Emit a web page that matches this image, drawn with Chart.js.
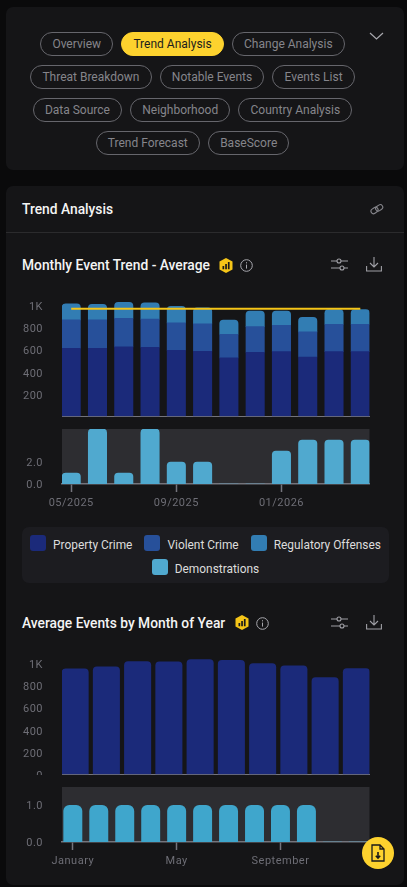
<!DOCTYPE html>
<html>
<head>
<meta charset="utf-8">
<script src="https://cdn.jsdelivr.net/npm/chart.js@4/dist/chart.umd.min.js"></script>
<style>
  * { box-sizing: border-box; }
  html, body { margin: 0; width: 407px; height: 887px; overflow: hidden; background: #0a0a0b; font-family: Roboto, sans-serif; }
  .card { position: absolute; left: 6px; width: 398px; background: #151517; border-radius: 7px; }
  .pills { position: absolute; left: 22px; top: 32px; width: 341px; display: flex; flex-wrap: wrap; justify-content: center; gap: 9px 8px; }
  .pill { height: 24px; line-height: 22px; padding: 0 11.2px; border: 1px solid #66666c; border-radius: 12px; color: #85858b; font-size: 12px; white-space: nowrap; }
  .pill.on { background: #fdd22e; border-color: #fdd22e; color: #1c1c1c; }
  .abs { position: absolute; }
  .title { position: absolute; left: 22px; color: #f4f4f4; font-size: 13.8px; font-weight: 500; white-space: nowrap; }
  .divider { position: absolute; left: 6px; width: 398px; top: 232px; height: 1px; background: #2b2b2d; }
  canvas { position: absolute; left: 0; }
  .legend { position: absolute; left: 22px; top: 527px; width: 367px; height: 56px; background: #1c1c20; border-radius: 7px; display: flex; flex-wrap: wrap; justify-content: center; align-content: flex-start; padding-top: 8px; gap: 8px 12px; }
  .legend div { display: flex; align-items: center; gap: 7px; color: #dcdcdc; font-size: 11.9px; height: 16px; white-space: nowrap; }
  .legend span { position: relative; top: 1.5px; }
  .legend i { width: 16px; height: 16px; border-radius: 3px; display: block; }
  .fab { position: absolute; left: 362px; top: 837px; width: 32px; height: 32px; border-radius: 50%; background: #fdd22e; }
</style>
</head>
<body>
<div class="card" style="top:7px;height:163px"></div>
<div class="card" style="top:186px;height:699px"></div>
<div class="divider"></div>

<div class="pills" id="pills"></div>
<svg class="abs" style="left:369px;top:31px" width="15" height="10" fill="none" stroke="#a8a8ae" stroke-width="1.2"><path d="M1 2l6.5 6L14 2"/></svg>

<div class="title" style="top:201px;left:22px">Trend Analysis</div>
<svg class="abs" style="left:370px;top:203px" width="14" height="13" fill="none" stroke="#85858b" stroke-width="1.1"><rect x="0.8" y="5" width="7.5" height="5" rx="2.5" transform="rotate(-35 4.5 7.5)"/><rect x="5.5" y="2.5" width="7.5" height="5" rx="2.5" transform="rotate(-35 9 5)"/></svg>

<div class="title" style="top:257px">Monthly Event Trend - Average</div>
<svg class="abs hex" style="left:219px;top:258px" width="14" height="15" viewBox="0 0 14 15"><path fill="#f5c518" d="M7 0l6.5 3.5v8L7 15 .5 11.5v-8z"/><path fill="#1a1a1a" d="M3.5 8h1.7v3.2H3.5zM6.2 6h1.7v5.2H6.2zM8.9 4h1.7v7.2H8.9z"/></svg>
<svg class="abs info" style="left:240px;top:259px" width="13" height="13" fill="none" stroke="#a8a8ae" stroke-width="1"><circle cx="6.5" cy="6.5" r="5.8"/><path d="M6.5 5.6v4M6.5 3.2v1.2"/></svg>
<svg class="abs" style="left:331px;top:257px" width="17" height="15" fill="none" stroke="#a0a0a6" stroke-width="1.1"><path d="M0 4h6M10 4h7M0 11h9M13 11h4"/><circle cx="8" cy="4" r="2"/><circle cx="11" cy="11" r="2"/></svg>
<svg class="abs" style="left:366px;top:256px" width="16" height="16" fill="none" stroke="#a0a0a6" stroke-width="1.1"><path d="M8 1v10M4 7l4 4 4-4M.6 10v5h14.8v-5"/></svg>

<canvas id="c1"></canvas>
<canvas id="c2"></canvas>
<div class="legend" id="legend"></div>

<div class="title" style="top:615px">Average Events by Month of Year</div>
<svg class="abs hex" style="left:235px;top:615px" width="14" height="15" viewBox="0 0 14 15"><path fill="#f5c518" d="M7 0l6.5 3.5v8L7 15 .5 11.5v-8z"/><path fill="#1a1a1a" d="M3.5 8h1.7v3.2H3.5zM6.2 6h1.7v5.2H6.2zM8.9 4h1.7v7.2H8.9z"/></svg>
<svg class="abs info" style="left:256px;top:617px" width="13" height="13" fill="none" stroke="#a8a8ae" stroke-width="1"><circle cx="6.5" cy="6.5" r="5.8"/><path d="M6.5 5.6v4M6.5 3.2v1.2"/></svg>
<svg class="abs" style="left:331px;top:615px" width="17" height="15" fill="none" stroke="#a0a0a6" stroke-width="1.1"><path d="M0 4h6M10 4h7M0 11h9M13 11h4"/><circle cx="8" cy="4" r="2"/><circle cx="11" cy="11" r="2"/></svg>
<svg class="abs" style="left:366px;top:614px" width="16" height="16" fill="none" stroke="#a0a0a6" stroke-width="1.1"><path d="M8 1v10M4 7l4 4 4-4M.6 10v5h14.8v-5"/></svg>

<canvas id="c3"></canvas>
<canvas id="c4"></canvas>

<div class="fab"><svg class="abs" style="left:9px;top:7px" width="14" height="18" fill="none" stroke="#1a1a1a" stroke-width="1.3"><path d="M1 1h8l4 4v12H1zM9 1v4h4"/><path d="M7 8v6M4.8 11.8L7 14l2.2-2.2" stroke-width="1.6"/></svg></div>

<script>
// nav
const navItems = ["Overview", "Trend Analysis", "Change Analysis", "Threat Breakdown", "Notable Events", "Events List", "Data Source", "Neighborhood", "Country Analysis", "Trend Forecast", "BaseScore"];

// monthly trend
const trendMonths = ["05/2025", "06/2025", "07/2025", "08/2025", "09/2025", "10/2025", "11/2025", "12/2025", "01/2026", "02/2026", "03/2026", "04/2026"];
const propertyCrime = [618, 618, 630, 627, 600, 591, 530, 582, 588, 539, 588, 588];
const violentCrime = [258, 258, 261, 255, 248, 248, 215, 233, 239, 228, 248, 248];
const regulatoryOffenses = [145, 142, 145, 148, 152, 146, 128, 140, 128, 133, 134, 134];
const trendAverage = [976, 976, 976, 976, 976, 976, 976, 976, 976, 976, 976, 976];
const demonstrations = [1, 5, 1, 5, 2, 2, 0, 0, 3, 4, 4, 4];

// by month of year
const yearMonths = ["January", "February", "March", "April", "May", "June", "July", "August", "September", "October", "November", "December"];
const avgEvents = [957, 976, 1024, 1021, 1042, 1036, 1006, 985, 879, 960];
const avgDemonstrations = [1, 1, 1, 1, 1, 1, 1, 1, 1, 1, 0, 0];

// tick labels
const bigTicks = [0, 200, 400, 600, 800, 1000];
const trendDemoTicks = [0, 2];
const yearDemoTicks = [0, 1];
const trendMonthTicks = ["05/2025", "09/2025", "01/2026"];
const yearMonthTicks = ["January", "May", "September"];

const legendItems = [
  ["Property Crime", "#1b2a7a"],
  ["Violent Crime", "#27509a"],
  ["Regulatory Offenses", "#327db3"],
  ["Demonstrations", "#50a9cf"]
];

document.getElementById("pills").innerHTML = navItems
  .map(n => `<div class="pill${n === "Trend Analysis" ? " on" : ""}">${n}</div>`).join("");
document.getElementById("legend").innerHTML = legendItems
  .map(l => `<div><i style="background:${l[1]}"></i><span>${l[0]}</span></div>`).join("");

const TICK_COLOR = "#6e6e76";
const AXIS_COLOR = "#74747c";
const tickFont = { family: "Roboto", size: 11 };

// spaced tick text + grey panel behind the lower charts
const paintPlugin = {
  id: "paint",
  beforeDraw(chart, args, opts) {
    chart.ctx.letterSpacing = "0.5px";
    if (opts.panel) {
      const a = chart.chartArea;
      chart.ctx.fillStyle = opts.panel;
      chart.ctx.fillRect(a.left, a.top, a.width, a.height);
    }
  }
};

const xy = arr => arr.map((v, i) => ({ x: i, y: v }));

function yAxis(max, ticks, fmt, labelOffset) {
  return {
    stacked: true,
    min: 0,
    max,
    grid: { display: false },
    border: { display: false },
    afterBuildTicks: ax => { ax.ticks = ticks.map(value => ({ value })); },
    afterFit: ax => { ax.width = 62; ax.paddingTop = 0; ax.paddingBottom = 0; },
    ticks: { color: TICK_COLOR, font: tickFont, padding: 11, labelOffset, autoSkip: false, callback: fmt }
  };
}

function xAxis(xMin, xMax, labels, shown) {
  const hasLabels = !!shown;
  return {
    type: "linear",
    stacked: true,
    offset: false,
    min: xMin,
    max: xMax,
    border: { display: true, color: AXIS_COLOR, width: hasLabels ? 1.5 : 1 },
    grid: { offset: false, display: hasLabels, drawOnChartArea: false, drawTicks: hasLabels, tickLength: 8, tickColor: AXIS_COLOR, tickWidth: 1.5 },
    afterBuildTicks: ax => { ax.ticks = (shown || []).map(s => ({ value: labels.indexOf(s) })); },
    afterFit: ax => { ax.height = hasLabels ? 26 : 0; ax.paddingLeft = 0; ax.paddingRight = 0; },
    ticks: { display: hasLabels, color: TICK_COLOR, font: tickFont, padding: 4.5, autoSkip: false, maxRotation: 0, callback: v => labels[v] }
  };
}

function draw(id, top, height, padTop, padBottom, datasets, x, y, panel) {
  const el = document.getElementById(id);
  el.width = 407; el.height = height;
  el.style.top = top + "px";
  el.style.width = "407px"; el.style.height = height + "px";
  return new Chart(el, {
    type: "bar",
    data: { datasets },
    options: {
      responsive: false,
      animation: false,
      layout: { padding: { left: 0, right: 37.5, top: padTop, bottom: padBottom } },
      plugins: { legend: { display: false }, tooltip: { enabled: false }, paint: { panel } },
      scales: { x, y }
    },
    plugins: [paintPlugin]
  });
}

const flatBar = { topLeft: 0, topRight: 0, bottomLeft: 0, bottomRight: 0 };
const roundTop = r => ({ topLeft: r, topRight: r, bottomLeft: 0, bottomRight: 0 });
const kFmt = v => (v === 0 ? "" : v >= 1000 ? v / 1000 + "K" : String(v));
const kFmtZero = v => (v >= 1000 ? v / 1000 + "K" : String(v));
const oneDec = v => v.toFixed(1);

// monthly stacked bars + average line
draw("c1", 290, 128, 6.3, 1.7, [
  { type: "line", order: 0, data: xy(trendAverage), borderColor: "#f5c518", borderWidth: 2, pointRadius: 0, stack: "avg" },
  { order: 1, data: xy(propertyCrime), backgroundColor: "#1b2a7a", barThickness: 18.4, borderRadius: flatBar, borderSkipped: false },
  { order: 1, data: xy(violentCrime), backgroundColor: "#27509a", barThickness: 18.4, borderRadius: flatBar, borderSkipped: false },
  { order: 1, data: xy(regulatoryOffenses), backgroundColor: "#327db3", barThickness: 18.4, borderRadius: roundTop(4), borderSkipped: false }
], xAxis(-0.35, 11.35, trendMonths), yAxis(1090, bigTicks, kFmt, 1.5));

// demonstrations per month
draw("c2", 429, 81, 0, 0, [
  { data: xy(demonstrations), backgroundColor: "#50a9cf", barThickness: 18.4, borderRadius: roundTop(4), borderSkipped: false }
], xAxis(-0.35, 11.35, trendMonths, trendMonthTicks), yAxis(5, trendDemoTicks, oneDec, 1), "#2d2d31");

// month of year
draw("c3", 650, 125, 4.3, 0.7, [
  { data: xy(avgEvents), backgroundColor: "#1b2a7a", barThickness: 26.4, borderRadius: roundTop(4), borderSkipped: false }
], xAxis(-0.42, 9.42, yearMonths), yAxis(1090, bigTicks, kFmtZero, 1.5));

draw("c4", 787, 81, 0, 0, [
  { data: xy(avgDemonstrations), backgroundColor: "#3fa6cc", barThickness: 18.3, borderRadius: roundTop(6), borderSkipped: false }
], xAxis(-0.417, 11.43, yearMonths, yearMonthTicks), yAxis(1.5, yearDemoTicks, oneDec, 1), "#2d2d31");
</script>
</body>
</html>
